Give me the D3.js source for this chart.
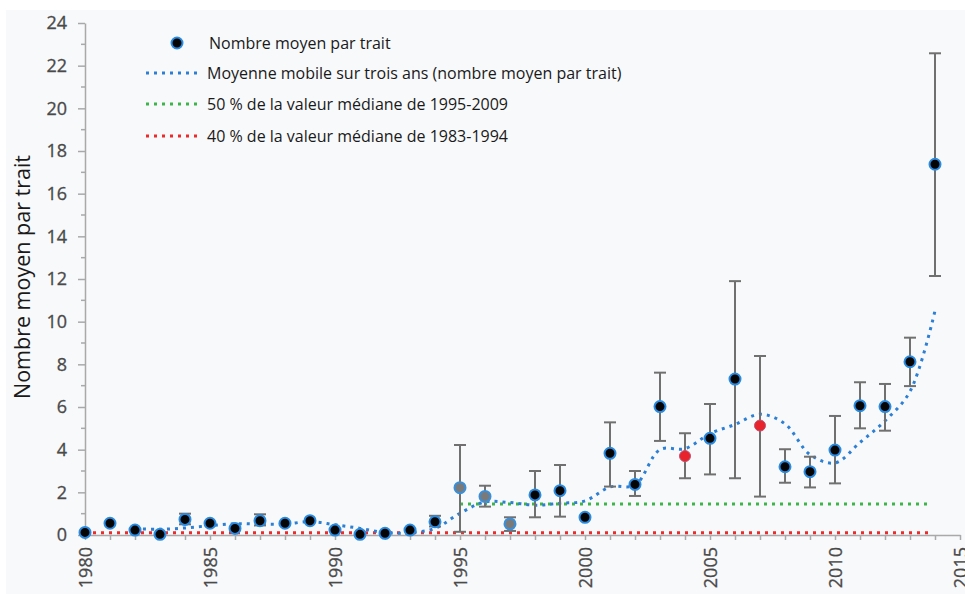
<!DOCTYPE html>
<html>
<head>
<meta charset="utf-8">
<script src="https://cdn.jsdelivr.net/npm/d3@7"></script>
<style>
  body { margin: 0; background: #fff; }
  svg { display: block; }
  .tick text { font-family: "Open Sans", "Noto Sans", sans-serif; }
</style>
</head>
<body>
<div id="chart"></div>
<script>
// values
var years = [1980, 1981, 1982, 1983, 1984, 1985, 1986, 1987, 1988, 1989,
             1990, 1991, 1992, 1993, 1994, 1995, 1996, 1997, 1998, 1999,
             2000, 2001, 2002, 2003, 2004, 2005, 2006, 2007, 2008, 2009,
             2010, 2011, 2012, 2013, 2014];
var means = [0.12, 0.55, 0.23, 0.03, 0.73, 0.55, 0.31, 0.67, 0.55, 0.67,
             0.23, 0.03, 0.08, 0.23, 0.62, 2.22, 1.81, 0.52, 1.88, 2.08,
             0.83, 3.83, 2.37, 6.02, 3.70, 4.53, 7.31, 5.13, 3.20, 2.97,
             3.98, 6.06, 6.02, 8.12, 17.38];
var errLow = [null, null, null, null, 0.50, null, null, 0.45, null, null,
              null, null, null, null, 0.40, 0.15, 1.33, 0.19, 0.83, 0.86,
              null, 2.27, 1.83, 4.41, 2.66, 2.84, 2.66, 1.80, 2.45, 2.23,
              2.42, 5.00, 4.89, 6.98, 12.14];
var errHigh = [null, null, null, null, 1.00, null, null, 0.97, null, null,
               null, null, null, null, 0.90, 4.22, 2.31, 0.83, 3.00, 3.28,
               null, 5.28, 3.00, 7.61, 4.77, 6.14, 11.90, 8.39, 4.02, 3.67,
               5.58, 7.16, 7.08, 9.25, 22.58];
var pointType = ["b", "b", "b", "b", "b", "b", "b", "b", "b", "b",
                 "b", "b", "b", "b", "b", "g", "g", "g", "b", "b",
                 "b", "b", "b", "b", "r", "b", "b", "r", "b", "b",
                 "b", "b", "b", "b", "b"];
// moving average from 1982 on
var maYears = [1982, 1983, 1984, 1985, 1986, 1987, 1988, 1989, 1990, 1991,
               1992, 1993, 1994, 1995, 1996, 1997, 1998, 1999, 2000, 2001,
               2002, 2003, 2004, 2005, 2006, 2007, 2008, 2009, 2010, 2011,
               2012, 2013, 2014];
var maValues = [0.30, 0.27, 0.33, 0.44, 0.53, 0.51, 0.51, 0.63, 0.48, 0.31,
                0.11, 0.11, 0.31, 1.02, 1.55, 1.52, 1.40, 1.49, 1.60, 2.25,
                2.34, 4.00, 4.05, 4.75, 5.18, 5.66, 5.21, 3.77, 3.38, 4.34,
                5.35, 6.73, 10.51];
var green = {value: 1.45, from: 1995, to: 2013.85};
var red = {value: 0.1, from: 1980, to: 2013.85};
var legendLabels = ["Nombre moyen par trait",
                    "Moyenne mobile sur trois ans (nombre moyen par trait)",
                    "50 % de la valeur médiane de 1995-2009",
                    "40 % de la valeur médiane de 1983-1994"];
var yTicks = [0, 2, 4, 6, 8, 10, 12, 14, 16, 18, 20, 22, 24];
var xTicks = [1980, 1985, 1990, 1995, 2000, 2005, 2010, 2015];

var W = 965, H = 594;
var svg = d3.select("#chart").append("svg")
    .attr("width", W)
    .attr("height", H);

svg.append("rect")
    .attr("x", 6).attr("y", 10)
    .attr("width", W - 6).attr("height", H - 10)
    .attr("fill", "#f8f9fb");

var x = d3.scaleLinear().domain([1980, 2015]).range([85, 960]);
var y = d3.scaleLinear().domain([0, 24]).range([535, 23]);

// y axis: major ticks every 2, minor every 1
var yAxis = d3.axisLeft(y).tickValues(yTicks).tickSize(7).tickPadding(11).tickSizeOuter(0);
var gy = svg.append("g").attr("transform", "translate(85,0)").call(yAxis);
gy.select(".domain").attr("stroke", "#a9a9a9").attr("stroke-width", 1.5);
gy.selectAll(".tick line").attr("stroke", "#a9a9a9").attr("stroke-width", 1.5);
gy.selectAll(".tick text")
    .attr("font-size", 18).attr("fill", "#4a4a4a")
    .attr("stroke", "#4a4a4a").attr("stroke-width", 0.3);
gy.selectAll(".minor")
    .data(d3.range(1, 24, 2))
    .enter().append("line")
    .attr("x1", -4).attr("x2", 0)
    .attr("y1", function (d) { return y(d); })
    .attr("y2", function (d) { return y(d); })
    .attr("stroke", "#a9a9a9").attr("stroke-width", 1.5);

// x axis: small tick for every year, labels every 5
var xAxis = d3.axisBottom(x).tickValues(years.concat([2015])).tickSize(5).tickSizeOuter(0)
    .tickFormat(function (d) { return xTicks.indexOf(d) >= 0 ? d : ""; });
var gx = svg.append("g").attr("transform", "translate(0,535)").call(xAxis);
gx.select(".domain").attr("stroke", "#a9a9a9").attr("stroke-width", 1.5);
gx.selectAll(".tick line").attr("stroke", "#a9a9a9").attr("stroke-width", 1.5);
gx.selectAll(".tick text")
    .attr("font-size", 18).attr("fill", "#4a4a4a")
    .attr("stroke", "#4a4a4a").attr("stroke-width", 0.3)
    .attr("text-anchor", "end")
    .attr("transform", "rotate(-90)")
    .attr("x", -12).attr("y", 0).attr("dy", "0.35em");

svg.append("text")
    .attr("transform", "translate(30,277) rotate(-90)")
    .attr("text-anchor", "middle")
    .attr("font-family", "Open Sans, Noto Sans, sans-serif")
    .attr("font-size", 21.5)
    .attr("fill", "#1a1a1a")
    .text("Nombre moyen par trait");

// reference lines
function hLine(ref, color) {
    svg.append("line")
        .attr("x1", x(ref.from)).attr("x2", x(ref.to))
        .attr("y1", y(ref.value)).attr("y2", y(ref.value))
        .attr("stroke", color).attr("stroke-width", 3)
        .attr("stroke-dasharray", "3,5");
}
hLine(green, "#3cb54a");
hLine(red, "#ee2a2a");

// moving average
var maData = maYears.map(function (yr, i) { return {year: yr, v: maValues[i]}; });
var line = d3.line()
    .x(function (d) { return x(d.year); })
    .y(function (d) { return y(d.v); })
    .curve(d3.curveCatmullRom.alpha(0.5));
svg.append("path")
    .attr("d", line(maData))
    .attr("fill", "none")
    .attr("stroke", "#2c7fd4").attr("stroke-width", 3)
    .attr("stroke-dasharray", "3,5");

// error bars
var data = years.map(function (yr, i) {
    return {year: yr, v: means[i], lo: errLow[i], hi: errHigh[i], t: pointType[i]};
});
var eb = svg.append("g").selectAll("g")
    .data(data.filter(function (d) { return d.hi !== null; }))
    .enter().append("g")
    .attr("stroke", "#707070").attr("stroke-width", 2);
eb.append("line")
    .attr("x1", function (d) { return x(d.year); })
    .attr("x2", function (d) { return x(d.year); })
    .attr("y1", function (d) { return y(d.lo); })
    .attr("y2", function (d) { return y(d.hi); });
eb.append("line")
    .attr("x1", function (d) { return x(d.year) - 6; })
    .attr("x2", function (d) { return x(d.year) + 6; })
    .attr("y1", function (d) { return y(d.hi); })
    .attr("y2", function (d) { return y(d.hi); });
eb.append("line")
    .attr("x1", function (d) { return x(d.year) - 6; })
    .attr("x2", function (d) { return x(d.year) + 6; })
    .attr("y1", function (d) { return y(d.lo); })
    .attr("y2", function (d) { return y(d.lo); });

var fills = {b: "#050505", g: "#7a7a7a", r: "#e8232b"};
var strokes = {b: "#2a8be0", g: "#3a8fd8", r: "#c05070"};
svg.append("g").selectAll("circle")
    .data(data)
    .enter().append("circle")
    .attr("cx", function (d) { return x(d.year); })
    .attr("cy", function (d) { return y(d.v); })
    .attr("r", 5.5)
    .attr("fill", function (d) { return fills[d.t]; })
    .attr("stroke", function (d) { return strokes[d.t]; })
    .attr("stroke-width", function (d) { return d.t === "r" ? 1 : 2; });

// legend
var lg = svg.append("g").attr("font-family", "Open Sans, Noto Sans, sans-serif")
    .attr("font-size", 16).attr("fill", "#1a1a1a");
var legY = [43, 73, 104, 136];
lg.append("circle").attr("cx", 177).attr("cy", legY[0]).attr("r", 5.5)
    .attr("fill", fills.b).attr("stroke", strokes.b).attr("stroke-width", 2);
var legColors = [null, "#2c7fd4", "#3cb54a", "#ee2a2a"];
for (var i = 1; i < 4; i++) {
    lg.append("line")
        .attr("x1", 146).attr("x2", 202)
        .attr("y1", legY[i]).attr("y2", legY[i])
        .attr("stroke", legColors[i]).attr("stroke-width", 3)
        .attr("stroke-dasharray", "3,5");
}
lg.selectAll("text")
    .data(legendLabels)
    .enter().append("text")
    .attr("x", function (d, i) { return i === 0 ? 209 : 207; })
    .attr("y", function (d, i) { return legY[i]; })
    .attr("dy", "0.35em")
    .text(function (d) { return d; });
</script>
</body>
</html>
